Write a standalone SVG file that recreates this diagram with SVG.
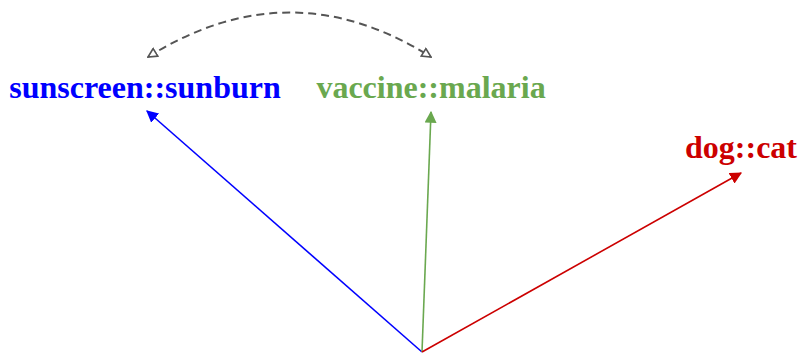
<svg xmlns="http://www.w3.org/2000/svg" width="800" height="353" viewBox="0 0 800 353">
<style>
.lbl{font-family:"Liberation Serif","Times New Roman",serif;font-weight:bold;font-size:32px;text-anchor:middle}
.vec{fill:none;stroke-width:1.6}
</style>
<defs>
<marker id="ab" viewBox="0 0 10 10" refX="9" refY="5" markerWidth="12" markerHeight="12" markerUnits="userSpaceOnUse" orient="auto"><path d="M0,0L10,5L0,10z" fill="#0000ff"/></marker>
<marker id="ag" viewBox="0 0 10 10" refX="9" refY="5" markerWidth="12" markerHeight="12" markerUnits="userSpaceOnUse" orient="auto"><path d="M0,0L10,5L0,10z" fill="#6aa84f"/></marker>
<marker id="ar" viewBox="0 0 10 10" refX="9" refY="5" markerWidth="12" markerHeight="12" markerUnits="userSpaceOnUse" orient="auto"><path d="M0,0L10,5L0,10z" fill="#cc0000"/></marker>
<marker id="ao" viewBox="0 0 10 10" refX="9" refY="5" markerWidth="11" markerHeight="11" markerUnits="userSpaceOnUse" orient="auto-start-reverse"><path d="M1,1L9,5L1,9z" fill="#fff" stroke="#555" stroke-width="1.5"/></marker>
</defs>
<g id="connectors">
<line class="vec" x1="422" y1="352" x2="147" y2="111" stroke="#0000ff" marker-end="url(#ab)"/>
<line class="vec" x1="422" y1="352" x2="431" y2="112" stroke="#6aa84f" marker-end="url(#ag)"/>
<line class="vec" x1="422" y1="352" x2="741" y2="173" stroke="#cc0000" marker-end="url(#ar)"/>
<path d="M148,57 Q290,-32 431,57" fill="none" stroke="#555" stroke-width="2" stroke-dasharray="8,5" marker-start="url(#ao)" marker-end="url(#ao)"/>
</g>
<g id="sunscreen"><text class="lbl" x="145" y="98" fill="#0000ff">sunscreen::sunburn</text></g>
<g id="vaccine"><text class="lbl" x="431" y="98" fill="#6aa84f">vaccine::malaria</text></g>
<g id="dog"><text class="lbl" x="741" y="158" fill="#cc0000">dog::cat</text></g>
</svg>
